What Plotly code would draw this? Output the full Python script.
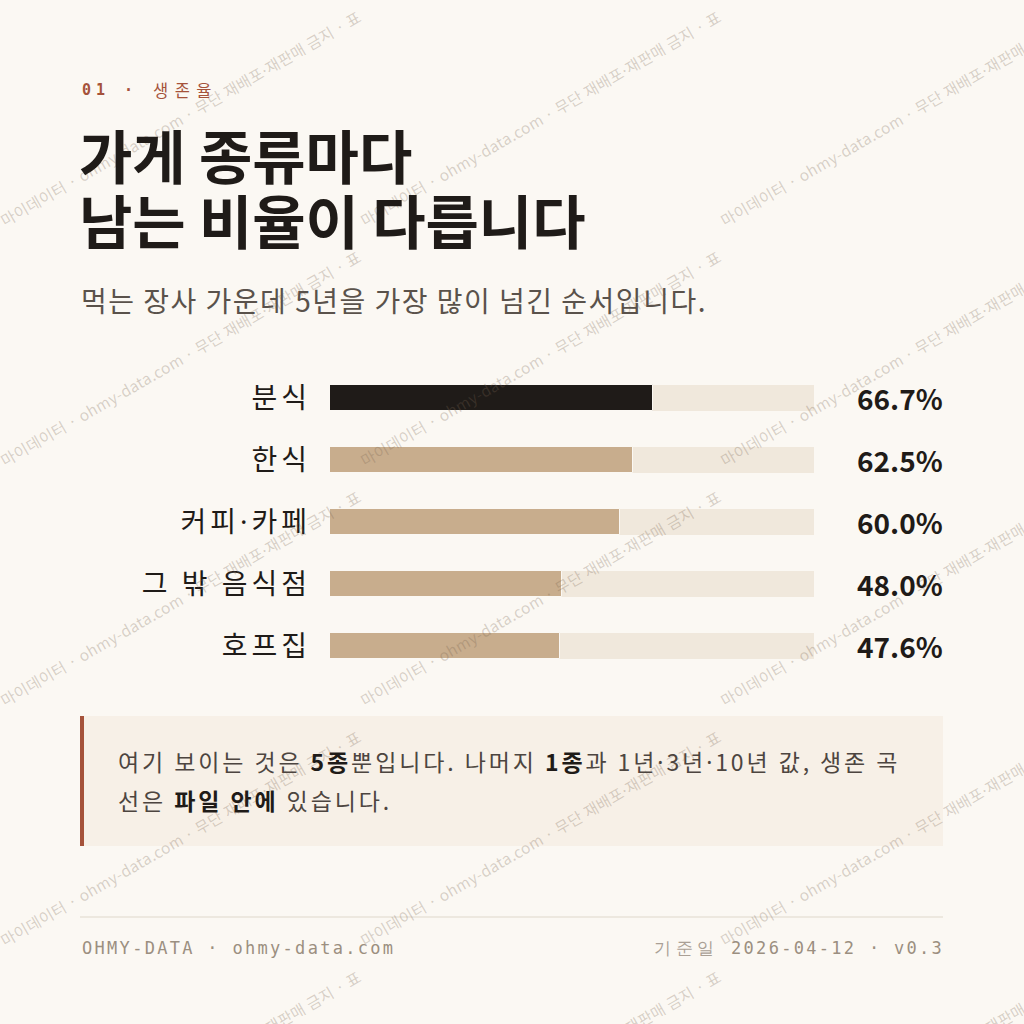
import plotly.graph_objects as go

W = H = 1024

categories = ["분식", "한식", "커피·카페", "그 밖 음식점", "호프집"]
survival_5y = [66.7, 62.5, 60.0, 48.0, 47.6]
value_labels = ["66.7%", "62.5%", "60.0%", "48.0%", "47.6%"]
track_max = [100, 100, 100, 100, 100]
highlight = "분식"

BG = "#fbf8f3"
INK = "#1f1b18"
TAN = "#c8ad8d"
TRACK = "#f0e8dc"
RUST = "#a5523a"
MUTED = "#9b8f80"
KR = "Noto Sans CJK KR"
MONO = "DejaVu Sans Mono"


def px(x):
    return x / W


def py(y):
    return 1 - y / H


def ls(text, sp):
    return f'<span style="letter-spacing:{sp}px">{text}</span>'


def narrow_dot(text):
    return text.replace("·", "<span style=\"font-family:'Noto Sans'\">·</span>")


fig = go.Figure()
fig.add_trace(go.Bar(
    y=categories, x=track_max, orientation="h",
    marker=dict(color=TRACK, line=dict(width=0)),
    width=0.42, hoverinfo="skip", showlegend=False,
))
fig.add_trace(go.Bar(
    y=categories, x=survival_5y, orientation="h",
    marker=dict(color=[INK if c == highlight else TAN for c in categories],
                line=dict(width=1, color="#fbf8f3")),
    width=0.42, showlegend=False,
))

ann = []

# watermark tiles
wm_text = "마이데이터 · ohmy-data.com · 무단 재배포" + narrow_dot("·") + "재판매 금지 · 표"
for tx in [0, 360, 720]:
    for ty in [-240, 0, 240, 480, 720, 960]:
        cx, cy = tx + 180, ty + 118
        ann.append(dict(
            x=px(cx), y=py(cy), xref="paper", yref="paper",
            text=ls(wm_text, 0.3), showarrow=False, textangle=-30,
            xanchor="center", yanchor="middle",
            font=dict(family=KR, size=15.5, color="rgba(120,100,80,0.28)"),
        ))

# kicker
ann.append(dict(x=px(80), y=py(90), xref="paper", yref="paper", showarrow=False,
                xanchor="left", yanchor="middle",
                text=ls("01 · ", 5),
                font=dict(family=MONO, size=15, color=RUST, weight="bold")))
ann.append(dict(x=px(151), y=py(90), xref="paper", yref="paper", showarrow=False,
                xanchor="left", yanchor="middle",
                text=ls("생존율", 6.5),
                font=dict(family=KR, size=16.5, color=RUST)))

# title
for txt, cy in [("가게 종류마다", 154), ("남는 비율이 다릅니다", 219)]:
    ann.append(dict(x=px(77), y=py(cy), xref="paper", yref="paper", showarrow=False,
                    xanchor="left", yanchor="middle", text=txt,
                    font=dict(family=KR, size=58, color=INK, weight="bold")))

# subtitle
ann.append(dict(x=px(79), y=py(300), xref="paper", yref="paper", showarrow=False,
                xanchor="left", yanchor="middle",
                text=ls("먹는 장사 가운데 5년을 가장 많이 넘긴 순서입니다.", 1.5),
                font=dict(family=KR, size=28, color="#5a524b")))

# value labels
for c, v in zip(categories, value_labels):
    ann.append(dict(x=px(945), y=c, xref="paper", yref="y", showarrow=False,
                    xanchor="right", yanchor="middle", text=v,
                    font=dict(family=KR, size=28, color=INK, weight="bold")))

# note
note_lines = [
    ("여기 보이는 것은 <b>5종</b>뿐입니다. 나머지 <b>1종</b>과 1년·3년·10년 값, 생존 곡", 761),
    ("선은 <b>파일 안에</b> 있습니다.", 800),
]
for txt, cy in note_lines:
    txt = txt.replace("<b>", f'<b><span style="color:{INK}">').replace("</b>", "</span></b>")
    txt = narrow_dot(txt)
    ann.append(dict(x=px(116), y=py(cy), xref="paper", yref="paper", showarrow=False,
                    xanchor="left", yanchor="middle", text=ls(txt, 2.9), align="left",
                    font=dict(family=KR, size=23, color="#4d4540")))

# footer
ann.append(dict(x=px(80), y=py(948), xref="paper", yref="paper", showarrow=False,
                xanchor="left", yanchor="middle",
                text=ls("OHMY-DATA · ohmy-data.com", 2.3),
                font=dict(family=MONO, size=17, color=MUTED)))
ann.append(dict(x=px(946), y=py(948), xref="paper", yref="paper", showarrow=False,
                xanchor="right", yanchor="middle",
                text='<span style="letter-spacing:4.5px;fill:#aaa095">기준일</span>'
                     '<span style="letter-spacing:2.3px"> 2026-04-12 · v0.3</span>',
                font=dict(family=MONO, size=17, color=MUTED)))

shapes = [
    dict(type="rect", xref="paper", yref="paper", x0=px(80), x1=px(943),
         y0=py(846), y1=py(716), fillcolor="#f7f0e7", line=dict(width=0), layer="below"),
    dict(type="rect", xref="paper", yref="paper", x0=px(80), x1=px(84),
         y0=py(846), y1=py(716), fillcolor=RUST, line=dict(width=0), layer="below"),
    dict(type="line", xref="paper", yref="paper", x0=px(80), x1=px(943),
         y0=py(917), y1=py(917), line=dict(color="#e9e3d9", width=1.5), layer="below"),
]

tick_text = [ls(narrow_dot(c), 4) for c in categories]

fig.update_layout(
    width=W, height=H, margin=dict(l=0, r=0, t=0, b=0),
    paper_bgcolor=BG, plot_bgcolor="rgba(0,0,0,0)",
    barmode="overlay", bargap=0,
    xaxis=dict(domain=[px(330), px(814)], range=[0, 100], visible=False, fixedrange=True),
    yaxis=dict(domain=[py(677), py(367)], range=[4.5, -0.5], type="category",
               tickmode="array", tickvals=categories, ticktext=tick_text,
               showgrid=False, zeroline=False, showline=False, ticks="",
               ticklabelstandoff=18,
               tickfont=dict(family=KR, size=28, color=INK), fixedrange=True),
    annotations=ann, shapes=shapes,
    font=dict(family=KR),
)

fig.write_html(
    "out.html",
    config={"displayModeBar": False},
    post_script="document.body.style.margin='0';document.body.style.overflow='hidden';",
)
